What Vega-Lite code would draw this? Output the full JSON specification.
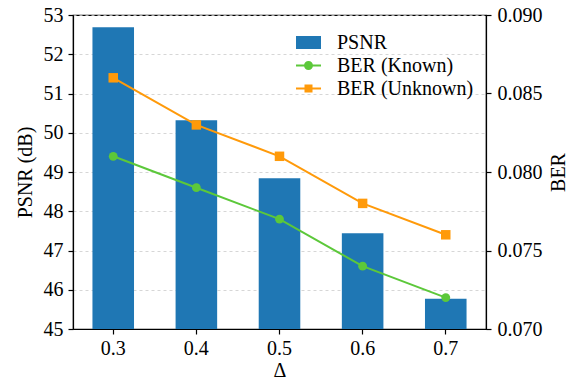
{
  "$schema": "https://vega.github.io/schema/vega-lite/v6.json",
  "width": 413,
  "height": 314,
  "autosize": {"type": "none"},
  "padding": {"left": 73, "top": 15, "right": 93, "bottom": 52},
  "background": "white",
  "config": {
    "font": "Liberation Serif",
    "view": {"stroke": "#000", "strokeWidth": 1.2}
  },
  "datasets": {
    "main": [
      {"delta": "0.3", "psnr": 52.69, "ber_known": 0.081, "ber_unknown": 0.086},
      {"delta": "0.4", "psnr": 50.32, "ber_known": 0.079, "ber_unknown": 0.083},
      {"delta": "0.5", "psnr": 48.84, "ber_known": 0.077, "ber_unknown": 0.081},
      {"delta": "0.6", "psnr": 47.44, "ber_known": 0.074, "ber_unknown": 0.078},
      {"delta": "0.7", "psnr": 45.77, "ber_known": 0.072, "ber_unknown": 0.076}
    ],
    "legend": [
      {"series": "PSNR"},
      {"series": "BER (Known)"},
      {"series": "BER (Unknown)"}
    ]
  },
  "layer": [
    {
      "data": {"name": "main"},
      "mark": {"type": "bar", "color": "#1f77b4", "clip": true},
      "encoding": {
        "x": {
          "field": "delta", "type": "nominal", "sort": null,
          "scale": {"paddingInner": 0.5, "paddingOuter": 0.234},
          "axis": {
            "title": "Δ", "labelAngle": 0, "labelPadding": 4, "titlePadding": 2,
            "labelFont": "Liberation Serif", "titleFont": "Liberation Serif",
            "labelFontSize": 20, "titleFontSize": 20, "titleFontWeight": "normal",
            "labelColor": "#000", "titleColor": "#000", "domainColor": "#000", "tickColor": "#000",
            "domainWidth": 1.2, "tickWidth": 1.2, "tickSize": 5
          }
        },
        "y": {
          "field": "psnr", "type": "quantitative",
          "scale": {"domain": [45, 53], "zero": false, "nice": false},
          "axis": {
            "title": "PSNR (dB)", "values": [45, 46, 47, 48, 49, 50, 51, 52, 53],
            "format": "d", "labelPadding": 5, "titlePadding": 8,
            "labelFont": "Liberation Serif", "titleFont": "Liberation Serif",
            "labelFontSize": 20, "titleFontSize": 20, "titleFontWeight": "normal",
            "labelColor": "#000", "titleColor": "#000", "domainColor": "#000", "tickColor": "#000",
            "domainWidth": 1.2, "tickWidth": 1.2, "tickSize": 5,
            "grid": true, "gridDash": [3, 3], "gridColor": "#cccccc", "gridWidth": 0.8
          }
        },
        "y2": {"datum": 45}
      }
    },
    {
      "data": {"name": "main"},
      "layer": [
        {
          "mark": {"type": "line", "color": "#5cc83a", "strokeWidth": 2,
                   "point": {"filled": true, "shape": "circle", "size": 78, "color": "#5cc83a"}},
          "encoding": {
            "x": {"field": "delta", "type": "nominal", "sort": null},
            "y": {"field": "ber_known", "type": "quantitative"}
          }
        },
        {
          "mark": {"type": "line", "color": "#ff9a0a", "strokeWidth": 2,
                   "point": {"filled": true, "shape": "square", "size": 90, "color": "#ff9a0a"}},
          "encoding": {
            "x": {"field": "delta", "type": "nominal", "sort": null},
            "y": {"field": "ber_unknown", "type": "quantitative"}
          }
        },
        {
          "data": {"name": "legend"},
          "mark": {"type": "point", "filled": true, "opacity": 0},
          "encoding": {
            "color": {
              "field": "series", "type": "nominal",
              "scale": {"domain": ["PSNR", "BER (Known)", "BER (Unknown)"], "range": ["#1f77b4", "#5cc83a", "#ff9a0a"]},
              "legend": {
                "title": null, "orient": "none", "legendX": 223, "legendY": 15,
                "symbolSize": 625, "symbolStrokeWidth": 0, "symbolOpacity": 1,
                "labelOffset": 16, "rowPadding": 0, "padding": 0,
                "labelFont": "Liberation Serif", "labelFontSize": 20, "labelColor": "#000"
              }
            },
            "shape": {
              "field": "series", "type": "nominal",
              "scale": {
                "domain": ["PSNR", "BER (Known)", "BER (Unknown)"],
                "range": [
                  "M-1,-0.52H1V0.52H-1Z",
                  "M-1,-0.08H1V0.08H-1Z M0.36,0A0.36,0.36,0,1,1,-0.36,0A0.36,0.36,0,1,1,0.36,0Z",
                  "M-1,-0.08H1V0.08H-1Z M-0.32,-0.32H0.32V0.32H-0.32Z"
                ]
              },
              "legend": {
                "title": null, "orient": "none", "legendX": 223, "legendY": 15,
                "symbolSize": 625, "symbolStrokeWidth": 0, "symbolOpacity": 1,
                "labelOffset": 16, "rowPadding": 0, "padding": 0,
                "labelFont": "Liberation Serif", "labelFontSize": 20, "labelColor": "#000"
              }
            }
          }
        }
      ],
      "encoding": {
        "y": {
          "type": "quantitative",
          "scale": {"domain": [0.07, 0.09], "zero": false, "nice": false},
          "axis": {
            "title": "BER", "orient": "right",
            "values": [0.07, 0.075, 0.08, 0.085, 0.09],
            "format": ".3f", "labelPadding": 6, "titlePadding": 6,
            "titleAngle": 270, "titleBaseline": "top",
            "labelFont": "Liberation Serif", "titleFont": "Liberation Serif",
            "labelFontSize": 20, "titleFontSize": 20, "titleFontWeight": "normal",
            "labelColor": "#000", "titleColor": "#000", "domainColor": "#000", "tickColor": "#000",
            "domainWidth": 1.2, "tickWidth": 1.2, "tickSize": 5,
            "grid": false
          }
        }
      }
    }
  ],
  "resolve": {"scale": {"y": "independent"}}
}
